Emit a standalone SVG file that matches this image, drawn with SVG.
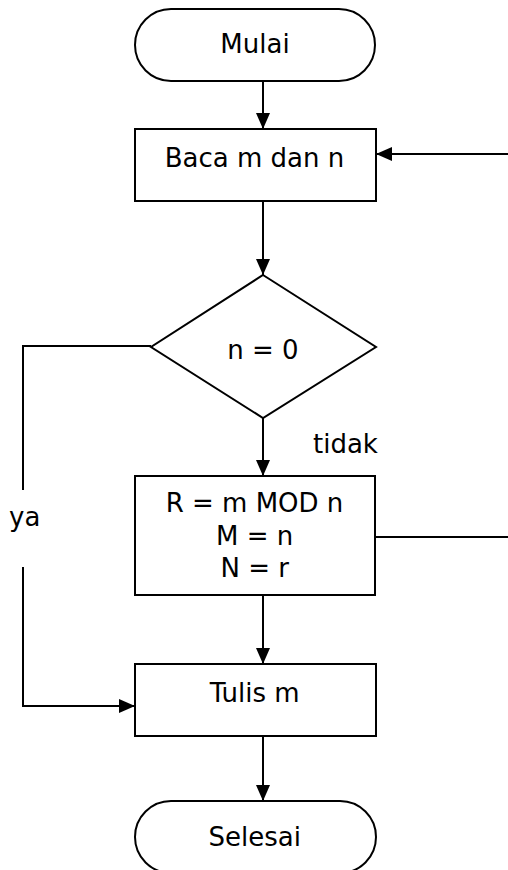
<svg xmlns="http://www.w3.org/2000/svg" width="508" height="870" viewBox="0 0 508 870">
<style>
.s{fill:#fff;stroke:#000;stroke-width:2}
.c{fill:none;stroke:#000;stroke-width:2}
text{font-family:"DejaVu Sans","Verdana",sans-serif;font-size:26px;fill:#000}
.m{text-anchor:middle}
</style>
<defs>
<marker id="ah" viewBox="0 0 16 16" refX="16" refY="8" markerWidth="16" markerHeight="16" markerUnits="userSpaceOnUse" orient="auto">
<path d="M0,1 L16,8 L0,15 Z" fill="#000"/>
</marker>
</defs>
<rect width="508" height="870" fill="#fff"/>
<g id="connectors">
<line class="c" x1="263" y1="81" x2="263" y2="129" marker-end="url(#ah)"/>
<line class="c" x1="508" y1="154" x2="376" y2="154" marker-end="url(#ah)"/>
<line class="c" x1="263" y1="201" x2="263" y2="275" marker-end="url(#ah)"/>
<polyline class="c" points="151,346 23,346 23,490"/>
<polyline class="c" points="23,567 23,706 135,706" marker-end="url(#ah)"/>
<line class="c" x1="263" y1="418" x2="263" y2="476" marker-end="url(#ah)"/>
<line class="c" x1="375" y1="537" x2="508" y2="537"/>
<line class="c" x1="263" y1="593" x2="263" y2="664" marker-end="url(#ah)"/>
<line class="c" x1="263" y1="730" x2="263" y2="801" marker-end="url(#ah)"/>
<text x="313" y="453">tidak</text>
<text x="9" y="526">ya</text>
</g>
<g id="mulai">
<rect class="s" x="135" y="9" width="240" height="72" rx="36" ry="36"/>
<text class="m" x="255" y="53">Mulai</text>
</g>
<g id="baca">
<rect class="s" x="135" y="129" width="241" height="72"/>
<text class="m" x="254.5" y="167">Baca m dan n</text>
</g>
<g id="cek">
<polygon class="s" points="263,275 376,347 263,418 151,347"/>
<text class="m" x="263" y="359">n = 0</text>
</g>
<g id="proses">
<rect class="s" x="135" y="476" width="240" height="119"/>
<text class="m" x="254.5" y="512">R = m MOD n</text>
<text class="m" x="254.7" y="545">M = n</text>
<text class="m" x="254.7" y="577">N = r</text>
</g>
<g id="tulis">
<rect class="s" x="135" y="664" width="241" height="72"/>
<text class="m" x="254.7" y="702">Tulis m</text>
</g>
<g id="selesai">
<rect class="s" x="135" y="801" width="241" height="72" rx="36" ry="36"/>
<text class="m" x="254.8" y="846">Selesai</text>
</g>
</svg>
